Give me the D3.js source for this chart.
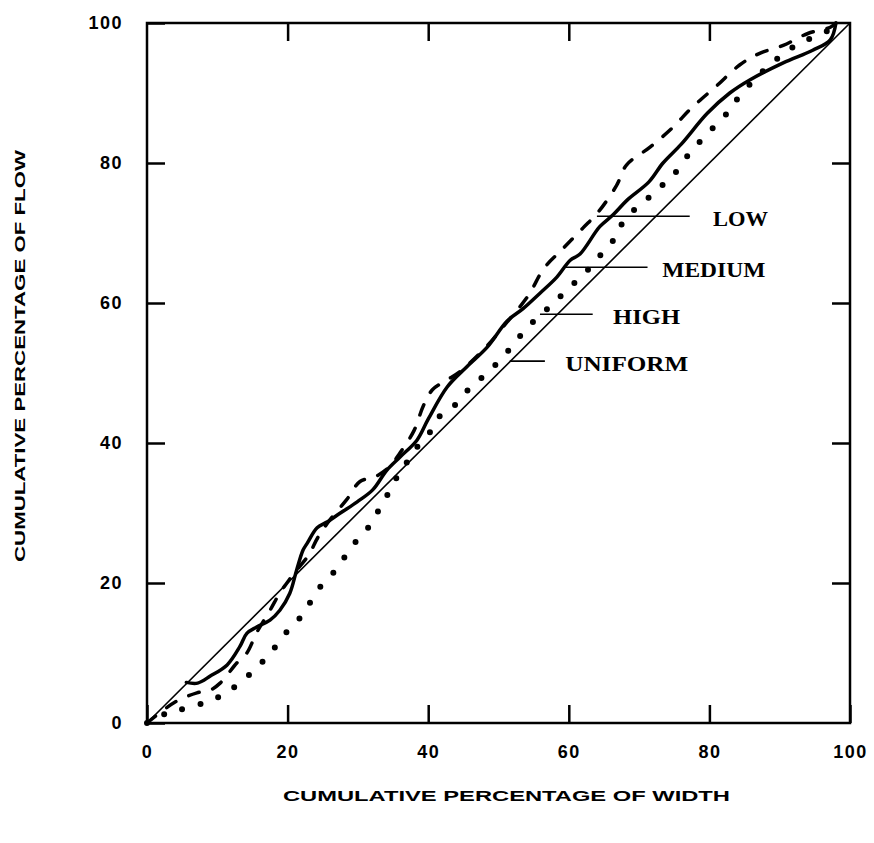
<!DOCTYPE html>
<html>
<head>
<meta charset="utf-8">
<script src="https://cdn.jsdelivr.net/npm/d3@7"></script>
<style>
  body { margin: 0; background: #fff; }
  .tick text { font-family: "Liberation Sans", Arial, sans-serif; font-weight: bold; font-size: 18px; letter-spacing: 1.5px; fill: #000; }
</style>
</head>
<body>
<svg id="chart" width="874" height="843"></svg>
<script>
// tick values
const xTicks = [0, 20, 40, 60, 80, 100];
const yTicks = [0, 20, 40, 60, 80, 100];

// cumulative % of width vs cumulative % of flow
const uniformCurve = [[0, 0], [100, 100]];

const lowCurve = [
  [0, 0], [4, 3], [7.1, 4.3], [9, 4.7], [10.4, 5.7], [12.8, 8.6], [14.2, 10], [15.6, 12.9],
  [17.5, 16.1], [18.9, 18.6], [19.9, 20], [21, 21.5], [23, 24], [24.3, 26.5], [26, 29],
  [28.4, 31.9], [30.3, 34.5], [32.5, 35.2], [34.5, 36.6], [36, 38.6], [38, 41.8], [39.3, 45.3],
  [40.6, 47.6], [42.5, 48.9], [44.5, 50.2], [48.5, 54], [51, 57], [54.2, 61], [56.5, 65],
  [59, 67.6], [62, 70.7], [64.2, 73], [66.8, 76.8], [68.2, 79.7], [71.6, 82.3], [74.7, 85],
  [77.5, 87.9], [81, 91], [84.3, 94], [87, 95.6], [90.5, 96.8], [94, 98.5], [97.2, 99.4], [98, 100]
];

const mediumCurve = [
  [5.6, 5.8], [7.2, 5.7], [9, 6.7], [11.4, 8.3], [13.2, 10.9], [14.2, 12.8], [15.6, 13.7],
  [17.5, 14.7], [18.9, 16.1], [20.3, 18.5], [21.3, 21.9], [22.2, 24.7], [22.8, 25.7], [24.2, 27.9],
  [25.6, 28.7], [27.5, 30], [29.9, 31.6], [32.1, 33.3], [34.1, 36.1], [36, 38], [38.4, 40.4],
  [40, 43.4], [42.7, 48], [45.5, 50.9], [48.4, 53.7], [51.2, 57.4], [53.5, 59.2], [55.9, 61.4],
  [58.3, 63.7], [60.2, 66.1], [61.6, 67], [64.4, 70.9], [66.3, 72.6], [68.3, 74.7], [71.4, 77.3],
  [73.4, 80], [76, 82.7], [79.7, 87.1], [82.9, 90], [85.8, 91.9], [90.5, 94.3], [94.7, 96.1],
  [97.2, 97.6], [98, 100]
];

const highCurve = [
  [0, 0], [2.8, 1.4], [4.7, 1.9], [7.3, 2.6], [9.5, 3.4], [11.7, 4.6], [14.2, 6.6], [16.1, 8.4],
  [17.8, 10.3], [19.6, 12.7], [21.5, 14.7], [23, 16.9], [24.6, 19.4], [26.7, 21.7], [28.1, 23.7],
  [29.7, 25.9], [31.6, 28.1], [32.9, 30.3], [34.1, 32.4], [35.3, 34.7], [36.8, 37], [38.4, 39.4],
  [40.3, 41.6], [41.4, 43.6], [43.5, 45.1], [45.2, 47.1], [46.9, 48.7], [48.8, 50.4], [50.9, 52.6],
  [52.6, 54.7], [54.5, 56.9], [56.3, 58.6], [58, 60.1], [59.9, 62.1], [62, 63.9], [64, 66.3],
  [66, 68.4], [67, 70.5], [70.2, 74.2], [72.3, 75.7], [73.9, 77.5], [75.4, 78.9], [77.1, 81.3],
  [78.8, 83.2], [80.5, 85], [82.1, 86.6], [83.4, 88.4], [86, 91.5], [88.9, 94.3], [90.8, 95.7],
  [92.7, 97.1], [94.9, 98], [97, 99], [98, 100]
];

const seriesNames = ["LOW", "MEDIUM", "HIGH", "UNIFORM"];

// label layout (data coords): leader start on curve, leader end, text start
const labelLayout = [
  { from: [64.0, 72.4], to: 77.2, textX: 80.5, len: 55 },
  { from: [59.5, 65.1], to: 71.2, textX: 73.3, len: 103 },
  { from: [55.9, 58.4], to: 63.4, textX: 66.3, len: 67 },
  { from: [51.6, 51.7], to: 56.6, textX: 59.5, len: 123 }
].map((d, i) => ({ ...d, name: seriesNames[i] }));

const svg = d3.select("#chart");
const plotLeft = 147, plotRight = 850, plotTop = 23, plotBottom = 723;

const x = d3.scaleLinear().domain([0, 100]).range([plotLeft, plotRight]);
const y = d3.scaleLinear().domain([0, 100]).range([plotBottom, plotTop]);

const tickLen = 18;

function styleAxis(g) {
  g.select(".domain").remove();
  g.selectAll(".tick line").attr("stroke", "#000").attr("stroke-width", 2.5);
}

svg.append("g")
  .attr("transform", `translate(0,${plotBottom})`)
  .call(d3.axisBottom(x).tickValues(xTicks).tickSizeInner(-tickLen).tickSizeOuter(0).tickPadding(22).tickFormat(d3.format("d")))
  .call(styleAxis)
  .call(g => g.selectAll(".tick text").attr("y", 22));

svg.append("g")
  .attr("transform", `translate(${plotLeft},0)`)
  .call(d3.axisLeft(y).tickValues(yTicks).tickSizeInner(-tickLen).tickSizeOuter(0).tickPadding(24).tickFormat(d3.format("d")))
  .call(styleAxis)
  .call(g => g.selectAll(".tick text").attr("x", -24));

svg.append("g")
  .attr("transform", `translate(0,${plotTop})`)
  .call(d3.axisTop(x).tickValues(xTicks.slice(1, -1)).tickSizeInner(-tickLen).tickSizeOuter(0).tickFormat(""))
  .call(styleAxis);

svg.append("g")
  .attr("transform", `translate(${plotRight},0)`)
  .call(d3.axisRight(y).tickValues(yTicks.slice(1, -1)).tickSizeInner(-tickLen).tickSizeOuter(0).tickFormat(""))
  .call(styleAxis);

// frame
svg.append("rect")
  .attr("x", plotLeft).attr("y", plotTop)
  .attr("width", plotRight - plotLeft).attr("height", plotBottom - plotTop)
  .attr("fill", "none").attr("stroke", "#000").attr("stroke-width", 2.5);

const line = d3.line()
  .x(d => x(d[0]))
  .y(d => y(d[1]))
  .curve(d3.curveCatmullRom.alpha(0.5));

// uniform
svg.append("path")
  .attr("d", line(uniformCurve))
  .attr("fill", "none").attr("stroke", "#000").attr("stroke-width", 1.6);

// high (dotted)
svg.append("path")
  .attr("d", line(highCurve))
  .attr("fill", "none").attr("stroke", "#000").attr("stroke-width", 6)
  .attr("stroke-linecap", "round")
  .attr("stroke-dasharray", "0 19");

// low (dashed)
svg.append("path")
  .attr("d", line(lowCurve))
  .attr("fill", "none").attr("stroke", "#000").attr("stroke-width", 3.5)
  .attr("stroke-linecap", "round")
  .attr("stroke-dasharray", "11 14");

// medium (solid)
svg.append("path")
  .attr("d", line(mediumCurve))
  .attr("fill", "none").attr("stroke", "#000").attr("stroke-width", 3.5)
  .attr("stroke-linejoin", "round").attr("stroke-linecap", "round");

// labels with leader lines
const labels = svg.append("g").selectAll("g")
  .data(labelLayout)
  .join("g");

labels.append("line")
  .attr("x1", d => x(d.from[0]))
  .attr("y1", d => y(d.from[1]))
  .attr("x2", d => x(d.to))
  .attr("y2", d => y(d.from[1]))
  .attr("stroke", "#000").attr("stroke-width", 1.6);

labels.append("text")
  .attr("x", d => x(d.textX))
  .attr("y", d => y(d.from[1]) + 10)
  .attr("textLength", d => d.len)
  .attr("lengthAdjust", "spacingAndGlyphs")
  .style("font-family", "'Liberation Serif', 'Times New Roman', serif")
  .style("font-weight", "bold")
  .style("font-size", "22px")
  .text(d => d.name);

// axis titles
svg.append("text")
  .attr("x", 283)
  .attr("y", 801)
  .attr("textLength", 447)
  .attr("lengthAdjust", "spacingAndGlyphs")
  .style("font-family", "'Liberation Sans', Arial, sans-serif")
  .style("font-weight", "bold")
  .style("font-size", "15px")
  .text("CUMULATIVE PERCENTAGE OF WIDTH");

svg.append("text")
  .attr("transform", "translate(25,562) rotate(-90)")
  .attr("textLength", 412)
  .attr("lengthAdjust", "spacingAndGlyphs")
  .style("font-family", "'Liberation Sans', Arial, sans-serif")
  .style("font-weight", "bold")
  .style("font-size", "15px")
  .text("CUMULATIVE PERCENTAGE OF FLOW");
</script>
</body>
</html>
